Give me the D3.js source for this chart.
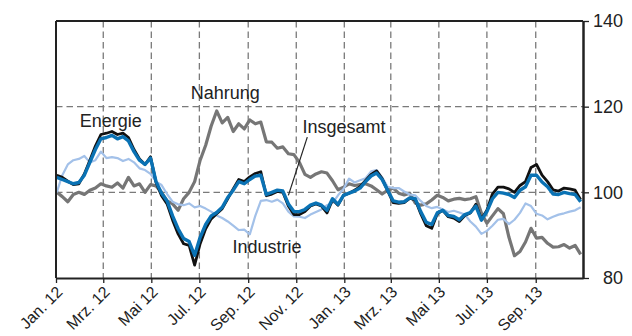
<!DOCTYPE html>
<html>
<head>
<meta charset="utf-8">
<script src="https://cdn.jsdelivr.net/npm/d3@7"></script>
<style>
  html, body { margin: 0; padding: 0; background: #fff; }
  svg { display: block; font-family: "Liberation Sans", Arial, Helvetica, sans-serif; }
</style>
</head>
<body>
<svg id="chart" width="632" height="336"></svg>
<script>
// Weekly observations (Mondays), Jan 2012 – Oct 2013, index 2012 = 100
const firstWeek = new Date(2012, 0, 2);
const weekCount = 96;

const insgesamt = [
  103.5, 103.0, 102.5, 102.0, 102.3, 104.0, 107.0, 110.0, 112.5, 112.8,
  113.3, 112.5, 113.0, 112.0, 109.5, 107.5, 106.5, 108.0, 102.5, 99.8,
  98.0, 94.5, 91.5, 89.2, 88.5, 85.3, 89.5, 92.5, 94.5, 95.3,
  96.5, 98.8, 100.5, 102.5, 102.0, 103.0, 103.8, 104.0, 99.5, 100.0,
  100.5, 100.3, 97.3, 95.5, 95.5, 96.0, 97.0, 97.5, 97.0, 95.8,
  98.5, 97.2, 99.3, 99.8, 100.3, 101.0, 102.5, 103.8, 104.5, 103.0,
  100.5, 98.0, 97.7, 97.8, 98.7, 98.5, 95.5, 93.0, 92.5, 95.2,
  95.8, 94.6, 94.4, 93.6, 94.8, 95.3, 96.8, 93.5, 95.5, 98.5,
  100.0, 99.8, 99.5, 98.8, 100.5, 101.3, 104.0, 104.0, 102.4, 101.3,
  99.6, 99.5, 100.0, 99.7, 99.5, 97.8
];

const energie = [
  104.0, 103.5, 102.6, 101.8, 102.0, 104.3, 107.5, 110.8, 113.5, 113.8,
  114.2, 113.5, 113.8, 112.8, 110.0, 107.8, 106.5, 108.3, 102.3, 99.2,
  97.3, 93.5, 90.3, 88.0, 87.6, 83.0, 88.0, 91.5, 93.8, 95.0,
  96.2, 98.5, 100.8, 103.0, 102.5, 103.6, 104.4, 104.8, 99.2, 99.6,
  100.2, 100.0, 96.8, 94.8, 94.8, 95.5, 96.8, 97.3, 96.8, 95.2,
  98.3, 97.0, 99.3, 99.8, 100.5, 101.3, 102.8, 104.2, 105.0, 103.2,
  100.4, 97.6, 97.4, 97.6, 98.6, 98.3, 95.0, 92.2, 91.6, 95.0,
  95.8, 94.3, 94.0, 93.2, 94.6, 95.2, 97.2, 93.8, 95.8, 99.6,
  101.2, 101.2, 100.8, 100.0, 101.6, 102.5, 105.8, 106.5, 104.0, 102.5,
  100.6, 100.3, 101.0, 100.8, 100.5, 98.3
];

const industrie = [
  100.0, 104.0, 106.5, 107.5, 107.8, 108.5, 107.0, 107.5, 109.5, 108.0,
  108.2, 108.0, 107.3, 107.8, 107.0, 105.6, 105.2, 104.3, 102.5, 101.7,
  99.6, 97.8, 97.2, 97.0, 97.4, 96.5, 96.8, 96.2, 95.5, 94.6,
  94.0, 93.2, 92.2, 91.2, 91.3, 90.2, 94.5, 98.0, 98.2, 97.8,
  98.3, 97.4, 95.5, 94.4, 94.3, 94.0, 94.8, 95.4, 96.0, 97.0,
  97.5, 99.3, 100.8, 103.2, 102.3, 102.8, 103.3, 104.9, 105.2, 103.5,
  101.3, 101.0, 101.0, 100.2, 99.5, 99.3, 98.0, 96.8, 96.3, 96.6,
  96.0, 95.4, 95.7, 95.3, 94.8, 93.2, 92.0, 90.3, 91.0, 92.2,
  93.6, 93.8, 92.6, 93.6, 95.2, 97.4, 96.8, 95.0, 94.6, 93.7,
  94.3, 94.8, 95.1, 95.5, 95.8, 96.5
];

const nahrung = [
  100.0, 99.0, 97.8, 99.5, 100.0, 99.5, 100.5, 101.0, 102.0, 101.5,
  101.2, 102.2, 101.0, 103.5, 101.5, 102.0, 100.0, 101.8, 101.5, 100.0,
  98.0, 97.3, 95.8, 98.5, 100.0, 102.5, 107.5, 111.0, 115.5, 119.0,
  116.2, 117.5, 114.2, 116.0, 114.8, 116.9, 116.0, 116.4, 111.8, 111.7,
  110.3, 110.6, 109.0, 108.8, 107.0, 104.2, 103.5, 104.3, 104.8, 104.5,
  102.7, 100.6, 101.2, 102.0, 101.6, 101.8, 102.0, 101.5, 100.6, 99.6,
  100.5, 101.0, 99.8, 99.4, 99.8, 97.5, 97.0, 97.3, 98.2, 99.3,
  98.8, 98.0, 98.4, 98.6, 98.3, 98.5, 99.0, 95.2, 92.8, 94.5,
  96.2, 95.0, 89.5, 85.2, 86.2, 88.4, 91.6, 89.3, 89.5, 88.1,
  87.2, 87.3, 87.8, 87.0, 87.6, 85.5
];

const yTicks = [80, 100, 120, 140];
const monthNames = ["Jan.", "Feb.", "Mrz.", "Apr.", "Mai", "Jun.", "Jul.", "Aug.", "Sep.", "Okt.", "Nov.", "Dez."];

// Series labels placed in data space: [text, date, value]
const seriesLabels = [
  ["Energie",   new Date(2012, 0, 31),  115.25],
  ["Nahrung",   new Date(2012, 5, 20),  121.8],
  ["Insgesamt", new Date(2012, 10, 9),  113.85],
  ["Industrie", new Date(2012, 7, 12),  85.8]
];
// Leader line from the "Insgesamt" label to its series
const leader = [[new Date(2012, 10, 15), 112.9], [new Date(2012, 9, 22), 99.3]];

const dates = d3.timeMonday.range(firstWeek, d3.timeWeek.offset(firstWeek, weekCount));

const fontFamily = '"Liberation Sans", Arial, Helvetica, sans-serif';
const svg = d3.select("#chart");
const plotLeft = 56, plotRight = 583, plotTop = 21, plotBottom = 278;

const x = d3.scaleTime()
  .domain([new Date(2012, 0, 1), new Date(2013, 9, 31)])
  .range([plotLeft, plotRight]);
const y = d3.scaleLinear().domain([80, 140]).range([plotBottom, plotTop]);

const gridColor = "#7a7a7a";
const inkColor = "#222";

// Vertical grid lines every two months
const monthTicks = d3.timeMonth.every(2).range(new Date(2012, 0, 1), new Date(2013, 9, 2));
svg.append("g")
  .selectAll("line")
  .data(monthTicks.slice(1))
  .join("line")
  .attr("x1", d => x(d)).attr("x2", d => x(d))
  .attr("y1", plotTop).attr("y2", plotBottom)
  .attr("stroke", gridColor).attr("stroke-width", 1.3)
  .attr("stroke-dasharray", "6.5,4");

// Horizontal grid lines
svg.append("g")
  .selectAll("line")
  .data([100, 120])
  .join("line")
  .attr("x1", plotLeft).attr("x2", plotRight)
  .attr("y1", d => y(d)).attr("y2", d => y(d))
  .attr("stroke", gridColor).attr("stroke-width", 1.3)
  .attr("stroke-dasharray", "6.5,4");

// Series lines
const line = (vals) => d3.line()
  .x((d, i) => x(dates[i]))
  .y(d => y(d))(vals);

const series = [
  { vals: nahrung,   color: "#767676", width: 3.2 },
  { vals: industrie, color: "#a3c1e9", width: 2.2 },
  { vals: energie,   color: "#111111", width: 2.8 },
  { vals: insgesamt, color: "#0a72b4", width: 3.4 }
];
svg.append("g")
  .selectAll("path")
  .data(series)
  .join("path")
  .attr("d", d => line(d.vals))
  .attr("fill", "none")
  .attr("stroke", d => d.color)
  .attr("stroke-width", d => d.width)
  .attr("stroke-linejoin", "round");

// Frame: left and top edges
svg.append("line")
  .attr("x1", plotLeft).attr("x2", plotLeft).attr("y1", plotTop).attr("y2", plotBottom)
  .attr("stroke", inkColor).attr("stroke-width", 2);
svg.append("line")
  .attr("x1", plotLeft).attr("x2", plotRight).attr("y1", plotTop).attr("y2", plotTop)
  .attr("stroke", inkColor).attr("stroke-width", 2);

// Bottom axis
const xAxis = svg.append("g")
  .attr("transform", `translate(0,${plotBottom})`)
  .call(d3.axisBottom(x)
    .tickValues(monthTicks)
    .tickSize(5)
    .tickSizeOuter(0)
    .tickFormat(d => `${monthNames[d.getMonth()]} ${String(d.getFullYear()).slice(2)}`))
  .attr("font-family", fontFamily)
  .attr("font-size", 16);
xAxis.select(".domain").attr("stroke", inkColor).attr("stroke-width", 2);
xAxis.selectAll(".tick line").attr("stroke", inkColor).attr("stroke-width", 1.3);
xAxis.selectAll(".tick text")
  .attr("fill", inkColor)
  .attr("text-anchor", "end")
  .attr("x", 0).attr("y", 0).attr("dy", 0)
  .attr("transform", "translate(7,15) rotate(-45)");

// Right axis
const yAxis = svg.append("g")
  .attr("transform", `translate(${plotRight},0)`)
  .call(d3.axisRight(y).tickValues(yTicks).tickSize(6).tickSizeOuter(0))
  .attr("font-family", fontFamily)
  .attr("font-size", 18);
yAxis.select(".domain").attr("stroke", inkColor).attr("stroke-width", 2.5);
yAxis.selectAll(".tick line").attr("stroke", inkColor).attr("stroke-width", 1.3);
yAxis.selectAll(".tick text")
  .attr("fill", inkColor)
  .attr("text-anchor", "end")
  .attr("x", 40);

// Series labels
svg.append("g")
  .attr("font-family", fontFamily)
  .selectAll("text")
  .data(seriesLabels)
  .join("text")
  .attr("x", d => x(d[1]))
  .attr("y", d => y(d[2]))
  .attr("font-size", 18)
  .attr("fill", inkColor)
  .text(d => d[0]);

svg.append("line")
  .attr("x1", x(leader[0][0])).attr("y1", y(leader[0][1]))
  .attr("x2", x(leader[1][0])).attr("y2", y(leader[1][1]))
  .attr("stroke", inkColor).attr("stroke-width", 1.2);
</script>
</body>
</html>
